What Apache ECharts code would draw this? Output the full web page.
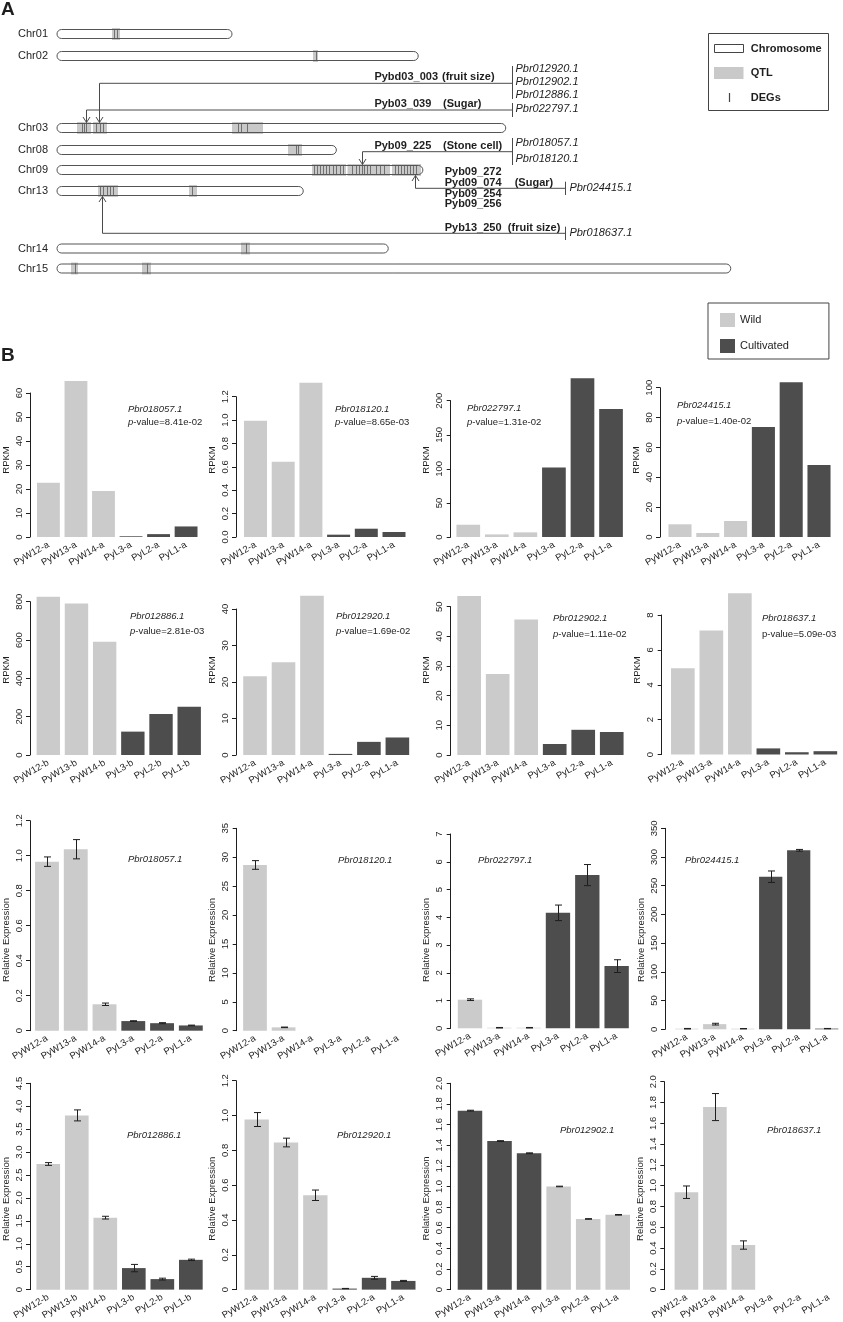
<!DOCTYPE html>
<html>
<head>
<meta charset="utf-8">
<script src="https://cdn.jsdelivr.net/npm/echarts@6/dist/echarts.min.js"></script>
<style>html,body{margin:0;padding:0;background:#fff}#c{width:843px;height:1322px}</style>
</head>
<body>
<div id="c"></div>
<script>
// ===================== DATA =====================
// ---- Panel A: chromosomes, QTL, DEGs (positions in Mb) ----
const chromNames = ['Chr01', 'Chr02', 'Chr03', 'Chr08', 'Chr09', 'Chr13', 'Chr14', 'Chr15'];
const chromLengthMb = [14.0, 28.9, 35.9, 22.35, 29.27, 19.7, 26.5, 53.9];

const qtlChrom   = ['Chr01','Chr02','Chr03','Chr03','Chr03','Chr08','Chr09','Chr09','Chr09','Chr13','Chr13','Chr14','Chr15','Chr15'];
const qtlStartMb = [4.40, 20.48, 1.60, 2.88, 14.00, 18.48, 20.40, 23.24, 26.80, 3.28, 10.56, 14.72, 1.12, 6.80];
const qtlEndMb   = [5.04, 20.88, 2.72, 4.00, 16.48, 19.60, 23.12, 26.64, 29.12, 4.88, 11.20, 15.44, 1.68, 7.52];

const degChr01 = [4.52, 4.76];
const degChr02 = [20.68];
const degChr03 = [2.00, 2.16, 2.32, 3.12, 3.40, 3.68, 14.48, 14.72, 15.20];
const degChr08 = [19.12, 19.28];
const degChr09 = [20.56, 20.80, 21.04, 21.28, 21.52, 21.76, 22.08, 22.32, 22.64, 22.88, 23.60, 23.92, 24.16, 24.40,
                  24.56, 24.80, 25.04, 25.52, 25.84, 26.16, 27.04, 27.28, 27.52, 27.76, 28.00, 28.24, 28.48, 28.72];
const degChr13 = [3.44, 3.68, 4.00, 4.24, 4.48, 10.80];
const degChr14 = [15.08];
const degChr15 = [1.40, 7.16];

const annQtlNames = [['Pybd03_003'], ['Pyb03_039'], ['Pyb09_225'], ['Pyb09_272', 'Pyd09_074', 'Pyb09_254', 'Pyb09_256'], ['Pyb13_250']];
const annTraits   = ['(fruit size)', '(Sugar)', '(Stone cell)', '(Sugar)', '(fruit size)'];
const annChrom    = ['Chr03', 'Chr03', 'Chr09', 'Chr09', 'Chr13'];
const annPosMb    = [3.34, 2.32, 24.42, 28.66, 3.58];
const annGenes    = [['Pbr012920.1', 'Pbr012902.1', 'Pbr012886.1'], ['Pbr022797.1'], ['Pbr018057.1', 'Pbr018120.1'], ['Pbr024415.1'], ['Pbr018637.1']];

// ---- Panel B: samples ----
const samplesA = ['PyW12-a', 'PyW13-a', 'PyW14-a', 'PyL3-a', 'PyL2-a', 'PyL1-a'];
const samplesB = ['PyW12-b', 'PyW13-b', 'PyW14-b', 'PyL3-b', 'PyL2-b', 'PyL1-b'];
const geneIds  = ['Pbr018057.1', 'Pbr018120.1', 'Pbr022797.1', 'Pbr024415.1', 'Pbr012886.1', 'Pbr012920.1', 'Pbr012902.1', 'Pbr018637.1'];
const pValues  = ['8.41e-02', '8.65e-03', '1.31e-02', '1.40e-02', '2.81e-03', '1.69e-02', '1.11e-02', '5.09e-03'];

// RPKM
const rpkmPbr018057 = [22.6, 65.0, 19.2, 0.3, 1.2, 4.4];
const rpkmPbr018120 = [0.995, 0.643, 1.32, 0.02, 0.071, 0.043];
const rpkmPbr022797 = [18, 3.8, 6.8, 102, 233, 188];
const rpkmPbr024415 = [8.5, 2.7, 10.7, 73.7, 103.6, 48.2];
const rpkmPbr012886 = [826, 791, 591, 122, 214, 252];
const rpkmPbr012920 = [21.6, 25.4, 43.6, 0.3, 3.6, 4.8];
const rpkmPbr012902 = [53.6, 27.3, 45.7, 3.7, 8.5, 7.75];
const rpkmPbr018637 = [4.95, 7.11, 9.25, 0.35, 0.13, 0.19];

// qRT-PCR relative expression and error
const qpcrPbr018057 = [0.966, 1.037, 0.151, 0.055, 0.043, 0.030];
const qerrPbr018057 = [0.027, 0.055, 0.007, 0.002, 0.003, 0.002];
const qpcrPbr018120 = [28.66, 0.58, 0, 0, 0, 0];
const qerrPbr018120 = [0.75, 0.05, 0, 0, 0, 0];
const qpcrPbr022797 = [1.03, 0.02, 0.02, 4.16, 5.52, 2.24];
const qerrPbr022797 = [0.03, 0.01, 0.01, 0.28, 0.38, 0.23];
const qpcrPbr024415 = [1.0, 9.0, 1.0, 265.7, 311.7, 1.2];
const qerrPbr024415 = [0.5, 1.5, 0.3, 10, 1.5, 0.3];
const qpcrPbr012886 = [2.74, 3.80, 1.57, 0.47, 0.23, 0.65];
const qerrPbr012886 = [0.03, 0.12, 0.03, 0.08, 0.02, 0.015];
const qpcrPbr012920 = [0.977, 0.845, 0.542, 0.006, 0.068, 0.050];
const qerrPbr012920 = [0.04, 0.025, 0.03, 0.001, 0.008, 0.003];
const qpcrPbr012902 = [1.735, 1.44, 1.322, 1.0, 0.685, 0.725];
const qerrPbr012902 = [0.004, 0.004, 0.004, 0.003, 0.003, 0.003];
const qpcrPbr018637 = [0.937, 1.756, 0.429, 0, 0, 0];
const qerrPbr018637 = [0.06, 0.13, 0.04, 0, 0, 0];

// tick labels
const ticksR1 = ['0', '10', '20', '30', '40', '50', '60'];
const ticksR2 = ['0.0', '0.2', '0.4', '0.6', '0.8', '1.0', '1.2'];
const ticksR3 = ['0', '50', '100', '150', '200'];
const ticksR4 = ['0', '20', '40', '60', '80', '100'];
const ticksR5 = ['0', '200', '400', '600', '800'];
const ticksR6 = ['0', '10', '20', '30', '40'];
const ticksR7 = ['0', '10', '20', '30', '40', '50'];
const ticksR8 = ['0', '2', '4', '6', '8'];
const ticksQ1 = ['0', '0.2', '0.4', '0.6', '0.8', '1.0', '1.2'];
const ticksQ2 = ['0', '5', '10', '15', '20', '25', '30', '35'];
const ticksQ3 = ['0', '1', '2', '3', '4', '5', '6', '7'];
const ticksQ4 = ['0', '50', '100', '150', '200', '250', '300', '350'];
const ticksQ5 = ['0', '0.5', '1.0', '1.5', '2.0', '2.5', '3.0', '3.5', '4.0', '4.5'];
const ticksQ6 = ['0', '0.2', '0.4', '0.6', '0.8', '1.0', '1.2'];
const ticksQ7 = ['0', '0.2', '0.4', '0.6', '0.8', '1.0', '1.2', '1.4', '1.6', '1.8', '2.0'];
const ticksQ8 = ['0', '0.2', '0.4', '0.6', '0.8', '1.0', '1.2', '1.4', '1.6', '1.8', '2.0'];

// ===================== LAYOUT & STYLE =====================
const FONT = '"Liberation Sans", Arial, Helvetica, sans-serif';
const INK = '#1e1e1e';
const LIGHT = '#cbcbcb';
const DARK = '#4d4d4d';
const LINE = '#4a4a4a';

const chromRowY = { Chr01: 34, Chr02: 56, Chr03: 128, Chr08: 150, Chr09: 170, Chr13: 191, Chr14: 248.5, Chr15: 268.5 };
const annLayout = [
  { lineY: 83.3,  dir: 'down', bracketX: 512, bracketY: [66, 99],   nameX: 374.4, nameY: [76.7], traitX: 442, traitY: 76.7, geneX: 515.5, geneY: [69.3, 82.3, 95.3] },
  { lineY: 110,   dir: 'down', bracketX: 512, bracketY: [103, 117], nameX: 374.4, nameY: [104.3], traitX: 443, traitY: 104.3, geneX: 515.5, geneY: [109.3] },
  { lineY: 151.7, dir: 'down', bracketX: 512, bracketY: [138, 165], nameX: 374.4, nameY: [145.7], traitX: 443, traitY: 145.7, geneX: 515.5, geneY: [143.3, 159.3] },
  { lineY: 188.3, dir: 'up',   bracketX: 565, bracketY: [181.7, 195], nameX: 444.7, nameY: [172.3, 182.7, 194, 204.3], traitX: 514.7, traitY: 182.7, geneX: 569.4, geneY: [188.3] },
  { lineY: 233.3, dir: 'up',   bracketX: 565, bracketY: [226.7, 240], nameX: 444.7, nameY: [227.7], traitX: 507.8, traitY: 227.7, geneX: 569.4, geneY: [233.3] }
];

// [axisLineX, gridLeft, gridWidth, topTickY, zeroY]
const layoutB = [
  [29, 33.65, 166.2, 393, 537], [236, 241.65, 166.2, 396.7, 537], [450.7, 454.0, 171.3, 400.7, 537], [660, 666.1, 166.8, 387.7, 537],
  [28.3, 32.5, 170.8, 601.7, 755], [236, 240.8, 170.8, 609, 755], [450.7, 454.9, 171.1, 606.7, 755], [661.7, 668.6, 171, 615, 754.5],
  [29.3, 31.9, 173.3, 820.7, 1030.7], [236.7, 240.7, 171.6, 828.3, 1030.7], [450.7, 455.3, 176, 834, 1028.3], [665, 672.7, 168, 828.3, 1029.3],
  [28.3, 32.3, 172.8, 1083.3, 1291.7], [236, 242, 176, 1080.7, 1292.3], [450.7, 455.2, 177.3, 1083.3, 1292.7], [664.3, 672.2, 174.4, 1081.7, 1291.7]
];
const nameCenterRow = [460, 670, 940, 1200];
// gene-label positions: [x, geneY, pValueY]
const geneTextPos = [
  [128, 409, 422], [335, 409, 422], [467, 408, 422], [677, 405, 421],
  [130, 616, 631], [336, 616, 631], [553, 618, 634], [762, 618, 634],
  [128, 859], [338, 860], [478, 860], [685, 860],
  [127, 1135], [337, 1135], [560, 1130], [767, 1130]
];
const swapColorCharts = [14];
const plainPCharts = [7];

// ===================== BUILD =====================
const rpkmValues = [rpkmPbr018057, rpkmPbr018120, rpkmPbr022797, rpkmPbr024415, rpkmPbr012886, rpkmPbr012920, rpkmPbr012902, rpkmPbr018637];
const rpkmTicks = [ticksR1, ticksR2, ticksR3, ticksR4, ticksR5, ticksR6, ticksR7, ticksR8];
const rpkmSamples = [samplesA, samplesA, samplesA, samplesA, samplesB, samplesA, samplesA, samplesA];
const qpcrValues = [qpcrPbr018057, qpcrPbr018120, qpcrPbr022797, qpcrPbr024415, qpcrPbr012886, qpcrPbr012920, qpcrPbr012902, qpcrPbr018637];
const qpcrErrors = [qerrPbr018057, qerrPbr018120, qerrPbr022797, qerrPbr024415, qerrPbr012886, qerrPbr012920, qerrPbr012902, qerrPbr018637];
const qpcrTicks = [ticksQ1, ticksQ2, ticksQ3, ticksQ4, ticksQ5, ticksQ6, ticksQ7, ticksQ8];
const qpcrSamples = [samplesA, samplesA, samplesA, samplesA, samplesB, samplesA, samplesA, samplesA];

const grids = [], xAxes = [], yAxes = [], series = [], graphics = [];

function txt(x, y, text, font, align, va, extra) {
  return { type: 'text', x: x, y: y, silent: true, z: 10,
    style: Object.assign({ text: text, font: font, fill: INK, textAlign: align || 'left', align: align || 'left',
      textVerticalAlign: va || 'middle', verticalAlign: va || 'middle' }, extra || {}) };
}

function errorBar(params, api) {
  const i = api.value(0), v = api.value(1), e = api.value(2);
  const hi = api.coord([i, v + e]), lo = api.coord([i, v - e]);
  const x = Math.round(hi[0]) + 0.5, w = 3.5;
  const st = { stroke: INK, lineWidth: 1 };
  return { type: 'group', children: [
    { type: 'line', shape: { x1: x, y1: hi[1], x2: x, y2: lo[1] }, style: st },
    { type: 'line', shape: { x1: x - w, y1: hi[1], x2: x + w, y2: hi[1] }, style: st },
    { type: 'line', shape: { x1: x - w, y1: lo[1], x2: x + w, y2: lo[1] }, style: st }
  ] };
}

for (let k = 0; k < 16; k++) {
  const isQ = k >= 8, j = k % 8;
  const vals = isQ ? qpcrValues[j] : rpkmValues[j];
  const errs = isQ ? qpcrErrors[j] : null;
  const ticks = isQ ? qpcrTicks[j] : rpkmTicks[j];
  const samples = isQ ? qpcrSamples[j] : rpkmSamples[j];
  const L = layoutB[k];
  const axisX = L[0], gl = L[1], gw = L[2], top = L[3], zero = L[4];
  const tmax = parseFloat(ticks[ticks.length - 1]);
  const step = tmax / (ticks.length - 1);
  grids.push({ left: gl, top: top, width: gw, height: zero - top });
  xAxes.push({ gridIndex: k, type: 'category', data: samples,
    axisLine: { show: false }, axisTick: { show: false }, splitLine: { show: false },
    axisLabel: { rotate: 30, interval: 0, margin: 7, fontSize: 9.5, color: INK, fontFamily: FONT } });
  const s = (top + zero) / 2 - nameCenterRow[Math.floor(k / 4)];
  const pad = s >= 0 ? [0, 0, 0, 2 * s] : [0, -2 * s, 0, 0];
  yAxes.push({ gridIndex: k, type: 'value', min: 0, max: tmax, interval: step, offset: gl - axisX,
    axisLine: { show: true, lineStyle: { color: INK, width: 1 } },
    axisTick: { show: true, length: 4, lineStyle: { color: INK, width: 1 } },
    splitLine: { show: false },
    axisLabel: { rotate: 90, margin: 6, fontSize: 9.5, color: INK, fontFamily: FONT,
      formatter: (function (t, st) { return function (v) { return t[Math.round(v / st)]; }; })(ticks, step) },
    name: isQ ? 'Relative Expression' : 'RPKM', nameLocation: 'middle', nameGap: 19, nameRotate: 90,
    nameTextStyle: { fontSize: 9.5, color: INK, fontFamily: FONT, padding: pad } });
  const swap = swapColorCharts.indexOf(k) >= 0;
  series.push({ type: 'bar', name: 'Wild', xAxisIndex: k, yAxisIndex: k, barWidth: '83%', barGap: '-100%', clip: false, silent: true,
    itemStyle: { color: swap ? DARK : LIGHT }, data: vals.map(function (v, i) { return i < 3 ? v : '-'; }) });
  series.push({ type: 'bar', name: 'Cultivated', xAxisIndex: k, yAxisIndex: k, barWidth: '83%', barGap: '-100%', clip: false, silent: true,
    itemStyle: { color: swap ? LIGHT : DARK }, data: vals.map(function (v, i) { return i >= 3 ? v : '-'; }) });
  if (errs) {
    series.push({ type: 'custom', name: 'SE', xAxisIndex: k, yAxisIndex: k, silent: true, z: 5,
      encode: { x: 0, y: 1 }, renderItem: errorBar,
      data: vals.map(function (v, i) { return [i, v, errs[i]]; }).filter(function (d) { return d[2] > 0; }) });
  }
  const gp = geneTextPos[k];
  graphics.push(txt(gp[0], gp[1], geneIds[j], 'italic 9.5px ' + FONT));
  if (!isQ) {
    const plain = plainPCharts.indexOf(k) >= 0;
    graphics.push({ type: 'text', x: gp[0], y: gp[2], silent: true, z: 10,
      style: { text: (plain ? '{n|p}' : '{i|p}') + '-value=' + pValues[j], fontSize: 9.5, fontFamily: FONT, fill: INK,
        textAlign: 'left', align: 'left', textVerticalAlign: 'middle', verticalAlign: 'middle',
        rich: { i: { fontStyle: 'italic', fontSize: 9.5, fontFamily: FONT, fill: INK }, n: { fontSize: 9.5, fontFamily: FONT, fill: INK } } } });
  }
}

// ---- Panel A grid (index 16) ----
const GA = 16;
grids.push({ left: 57, top: 0, width: 750, height: 300 });
xAxes.push({ gridIndex: GA, type: 'value', min: 0, max: 60, show: false });
yAxes.push({ gridIndex: GA, type: 'value', min: 0, max: 300, inverse: true, show: false });

const chromData = chromNames.map(function (c, i) { return [0, chromLengthMb[i], chromRowY[c]]; });
series.push({ type: 'custom', name: 'ChromosomeFill', xAxisIndex: GA, yAxisIndex: GA, silent: true, z: 1,
  encode: { x: [0, 1], y: 2 }, data: chromData,
  renderItem: function (params, api) {
    const p0 = api.coord([api.value(0), api.value(2)]), p1 = api.coord([api.value(1), api.value(2)]);
    return { type: 'group', children: [
      { type: 'rect', shape: { x: p0[0], y: p0[1] - 4.5, width: p1[0] - p0[0], height: 9, r: 4.5 }, style: { fill: '#ffffff' } },
      { type: 'text', x: p0[0] - 9, y: p0[1], style: { text: chromNames[params.dataIndex], font: '11px ' + FONT, fill: INK,
        textAlign: 'right', align: 'right', textVerticalAlign: 'middle', verticalAlign: 'middle' } }
    ] };
  } });
series.push({ type: 'custom', name: 'QTL', xAxisIndex: GA, yAxisIndex: GA, silent: true, z: 2,
  encode: { x: [0, 1], y: 2 },
  data: qtlChrom.map(function (c, i) { return [qtlStartMb[i], qtlEndMb[i], chromRowY[c]]; }),
  renderItem: function (params, api) {
    const p0 = api.coord([api.value(0), api.value(2)]), p1 = api.coord([api.value(1), api.value(2)]);
    return { type: 'rect', shape: { x: p0[0], y: p0[1] - 6, width: p1[0] - p0[0], height: 12 }, style: { fill: '#c9c9c9' } };
  } });
const degLists = [['Chr01', degChr01], ['Chr02', degChr02], ['Chr03', degChr03], ['Chr08', degChr08], ['Chr09', degChr09], ['Chr13', degChr13], ['Chr14', degChr14], ['Chr15', degChr15]];
const degData = [];
degLists.forEach(function (d) { d[1].forEach(function (p) { degData.push([p, chromRowY[d[0]]]); }); });
series.push({ type: 'custom', name: 'DEGs', xAxisIndex: GA, yAxisIndex: GA, silent: true, z: 3,
  encode: { x: 0, y: 1 }, data: degData,
  renderItem: function (params, api) {
    const p = api.coord([api.value(0), api.value(1)]);
    const x = Math.round(p[0]) + 0.5;
    return { type: 'line', shape: { x1: x, y1: p[1] - 5, x2: x, y2: p[1] + 5 }, style: { stroke: '#707070', lineWidth: 1 } };
  } });
series.push({ type: 'custom', name: 'ChromosomeOutline', xAxisIndex: GA, yAxisIndex: GA, silent: true, z: 4,
  encode: { x: [0, 1], y: 2 }, data: chromData,
  renderItem: function (params, api) {
    const p0 = api.coord([api.value(0), api.value(2)]), p1 = api.coord([api.value(1), api.value(2)]);
    return { type: 'rect', shape: { x: p0[0], y: p0[1] - 4.5, width: p1[0] - p0[0], height: 9, r: 4.5 },
      style: { fill: 'none', stroke: '#555555', lineWidth: 1 } };
  } });
series.push({ type: 'custom', name: 'QTLlinks', xAxisIndex: GA, yAxisIndex: GA, silent: true, z: 5,
  encode: { x: 0, y: 1 },
  data: annPosMb.map(function (p, i) { return [p, chromRowY[annChrom[i]]]; }),
  renderItem: function (params, api) {
    const L = annLayout[params.dataIndex];
    const c = api.coord([api.value(0), api.value(1)]);
    const tx = Math.round(c[0]) + 0.5;
    const down = L.dir === 'down';
    const ty = down ? c[1] - 5.5 : c[1] + 5.5;
    const ah = down ? -5.5 : 5.5;
    const st = { stroke: LINE, lineWidth: 1, fill: 'none' };
    const bx = L.bracketX + 0.5;
    return { type: 'group', children: [
      { type: 'polyline', shape: { points: [[bx, L.lineY], [tx, L.lineY], [tx, ty]] }, style: st },
      { type: 'polyline', shape: { points: [[tx - 3.5, ty + ah], [tx, ty], [tx + 3.5, ty + ah]] }, style: st },
      { type: 'line', shape: { x1: bx, y1: L.bracketY[0], x2: bx, y2: L.bracketY[1] }, style: st }
    ] };
  } });

// annotation texts (panel A)
const BOLD = 'bold 11px ' + FONT;
annLayout.forEach(function (L, i) {
  annQtlNames[i].forEach(function (n, m) { graphics.push(txt(L.nameX, L.nameY[m], n, BOLD)); });
  graphics.push(txt(L.traitX, L.traitY, annTraits[i], BOLD));
  annGenes[i].forEach(function (g, m) { graphics.push(txt(L.geneX, L.geneY[m], g, 'italic 11px ' + FONT)); });
});

// panel letters
graphics.push(txt(1, 0, 'A', 'bold 19px ' + FONT, 'left', 'top'));
graphics.push(txt(1, 346, 'B', 'bold 19px ' + FONT, 'left', 'top'));

// Panel A legend
graphics.push({ type: 'rect', silent: true, z: 9, shape: { x: 708.5, y: 33.5, width: 120, height: 77 }, style: { fill: '#fff', stroke: '#444', lineWidth: 1 } });
graphics.push({ type: 'rect', silent: true, z: 10, shape: { x: 714.5, y: 44.5, width: 29, height: 8 }, style: { fill: '#fff', stroke: '#444', lineWidth: 1 } });
graphics.push(txt(750.8, 48.5, 'Chromosome', BOLD));
graphics.push({ type: 'rect', silent: true, z: 10, shape: { x: 714, y: 67, width: 29.5, height: 12 }, style: { fill: '#c9c9c9' } });
graphics.push(txt(750.8, 73.3, 'QTL', BOLD));
graphics.push({ type: 'line', silent: true, z: 10, shape: { x1: 729.5, y1: 93, x2: 729.5, y2: 102 }, style: { stroke: '#444', lineWidth: 1.2 } });
graphics.push(txt(750.8, 97.7, 'DEGs', BOLD));

const chart = echarts.init(document.getElementById('c'), null, { renderer: 'canvas' });
chart.setOption({
  animation: false,
  backgroundColor: '#ffffff',
  textStyle: { fontFamily: FONT },
  legend: [{
    data: [{ name: 'Wild', itemStyle: { color: LIGHT } }, { name: 'Cultivated', itemStyle: { color: DARK } }],
    orient: 'vertical', left: 708, top: 303, padding: [10, 40, 6, 12], itemWidth: 15, itemHeight: 14, itemGap: 12,
    icon: 'rect', borderColor: '#444', borderWidth: 1, selectedMode: false,
    textStyle: { fontSize: 11, color: INK, fontFamily: FONT }
  }],
  grid: grids, xAxis: xAxes, yAxis: yAxes, series: series, graphic: graphics
});
</script>
</body>
</html>
